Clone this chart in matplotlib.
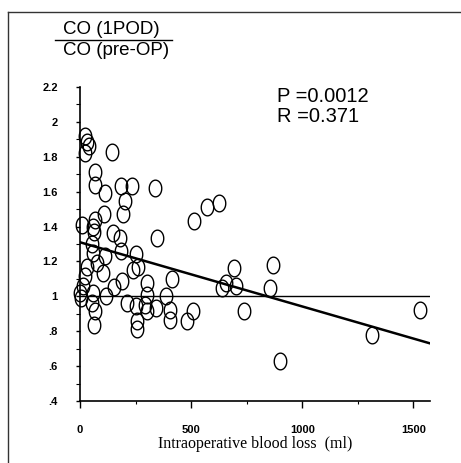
import numpy as np
import matplotlib
matplotlib.use("Agg")
import matplotlib.pyplot as plt
from matplotlib.path import Path
from matplotlib.lines import Line2D
from matplotlib.ticker import MultipleLocator, FixedLocator

# ---- data ----
blood_loss = [22, 33, 42, 22, 144, 67, 66, 111, 183, 234, 336, 203, 195, 108,
              8, 57, 67, 64, 147, 180, 348, 512, 570, 625, 185, 252, 52, 113,
              60, 33, 75, 240, 262, 105, 22, 413, 187, 155, 300, 15, 0, 3, 60,
              118, 52, 67, 64, 210, 250, 255, 255, 300, 293, 300, 342, 387, 405,
              405, 480, 510, 692, 870, 640, 655, 700, 855, 740, 900, 1313, 1530]
co_ratio = [1.92, 1.886, 1.86, 1.82, 1.83, 1.71, 1.64, 1.595, 1.63, 1.63, 1.62,
            1.546, 1.47, 1.47, 1.41, 1.40, 1.44, 1.37, 1.365, 1.336, 1.336, 1.43,
            1.514, 1.537, 1.26, 1.24, 1.30, 1.23, 1.25, 1.17, 1.19, 1.15, 1.17,
            1.134, 1.115, 1.10, 1.086, 1.055, 1.077, 1.057, 1.02, 0.99, 1.02,
            1.0, 0.96, 0.914, 0.837, 0.962, 0.943, 0.856, 0.81, 1.01, 0.952,
            0.914, 0.933, 1.0, 0.924, 0.866, 0.857, 0.914, 1.165, 1.18, 1.05,
            1.077, 1.057, 1.048, 0.914, 0.632, 0.777, 0.92]
fit_intercept = 1.31
fit_slope = -0.000368
reference_level = 1.0
x_ticks = [0, 500, 1000, 1500]
x_tick_labels = ["0", "500", "1000", "1500"]
y_ticks = [0.4, 0.6, 0.8, 1.0, 1.2, 1.4, 1.6, 1.8, 2.0, 2.2]
y_tick_labels = [".4", ".6", ".8", "1", "1.2", "1.4", "1.6", "1.8", "2", "2.2"]
stats_lines = ["P =0.0012", "R =0.371"]

W, H = 461, 463
fig = plt.figure(figsize=(W / 100, H / 100), dpi=100)

def fx(px):
    return px / W

def fy(py):
    return 1 - py / H

ax = fig.add_axes([fx(80), fy(401), fx(430) - fx(80), fy(87) - fy(401)])
ax.set_xlim(0, 1575)
ax.set_ylim(0.4, 2.2)

# ellipse marker (taller than wide)
t = np.linspace(0, 2 * np.pi, 60)
ell = Path(np.column_stack([0.75 * np.cos(t), np.sin(t)]), closed=True)

ax.plot(blood_loss, co_ratio, linestyle="none", marker=ell, markersize=12,
        markerfacecolor="none", markeredgecolor="black", markeredgewidth=1.0,
        clip_on=False, zorder=3)

ax.axhline(reference_level, color="black", lw=1.0, zorder=2)
xs = np.array([0, 1575])
ax.plot(xs, fit_intercept + fit_slope * xs, color="black", lw=1.8, zorder=2)

for s in ["top", "right"]:
    ax.spines[s].set_visible(False)
for s in ["left", "bottom"]:
    ax.spines[s].set_linewidth(1.2)

ax.xaxis.set_major_locator(FixedLocator(x_ticks))
ax.set_xticklabels(x_tick_labels)
ax.xaxis.set_minor_locator(MultipleLocator(250))
ax.yaxis.set_major_locator(FixedLocator(y_ticks))
ax.set_yticklabels(y_tick_labels)
ax.yaxis.set_minor_locator(MultipleLocator(0.1))

ax.tick_params(axis="x", which="major", length=5, width=1, pad=12,
               labelsize=8)
ax.tick_params(axis="x", which="minor", length=2.5, width=0.8)
ax.tick_params(axis="y", which="major", length=3, width=1, pad=13,
               labelsize=8)
ax.tick_params(axis="y", which="minor", length=3, width=0.8)
for lab in ax.get_xticklabels() + ax.get_yticklabels():
    lab.set_fontfamily("Liberation Sans")
    lab.set_fontweight("bold")

ax.set_xlabel("Intraoperative blood loss  (ml)", fontfamily="Liberation Serif",
              fontsize=11.5, labelpad=1)

# fraction label (top left)
fig.text(fx(111.5), fy(34), "CO (1POD)", ha="center", va="baseline",
         fontfamily="Liberation Sans", fontsize=13.5)
fig.add_artist(Line2D([fx(55), fx(172)], [fy(40), fy(40)], color="black",
                      lw=1.0))
fig.text(fx(116.5), fy(55), "CO (pre-OP)", ha="center", va="baseline",
         fontfamily="Liberation Sans", fontsize=13.5)

# statistics
fig.text(fx(277), fy(102), stats_lines[0], ha="left", va="baseline",
         fontfamily="Liberation Sans", fontsize=14.5)
fig.text(fx(277), fy(122.5), stats_lines[1], ha="left", va="baseline",
         fontfamily="Liberation Sans", fontsize=14.5)

# outer frame (left and top edges)
fig.add_artist(Line2D([fx(7.5), fx(7.5)], [fy(12), 0], color="#333333", lw=1.0))
fig.add_artist(Line2D([fx(7.5), 1], [fy(12), fy(12)], color="#333333", lw=1.0))

fig.savefig("out.png", dpi=100)
